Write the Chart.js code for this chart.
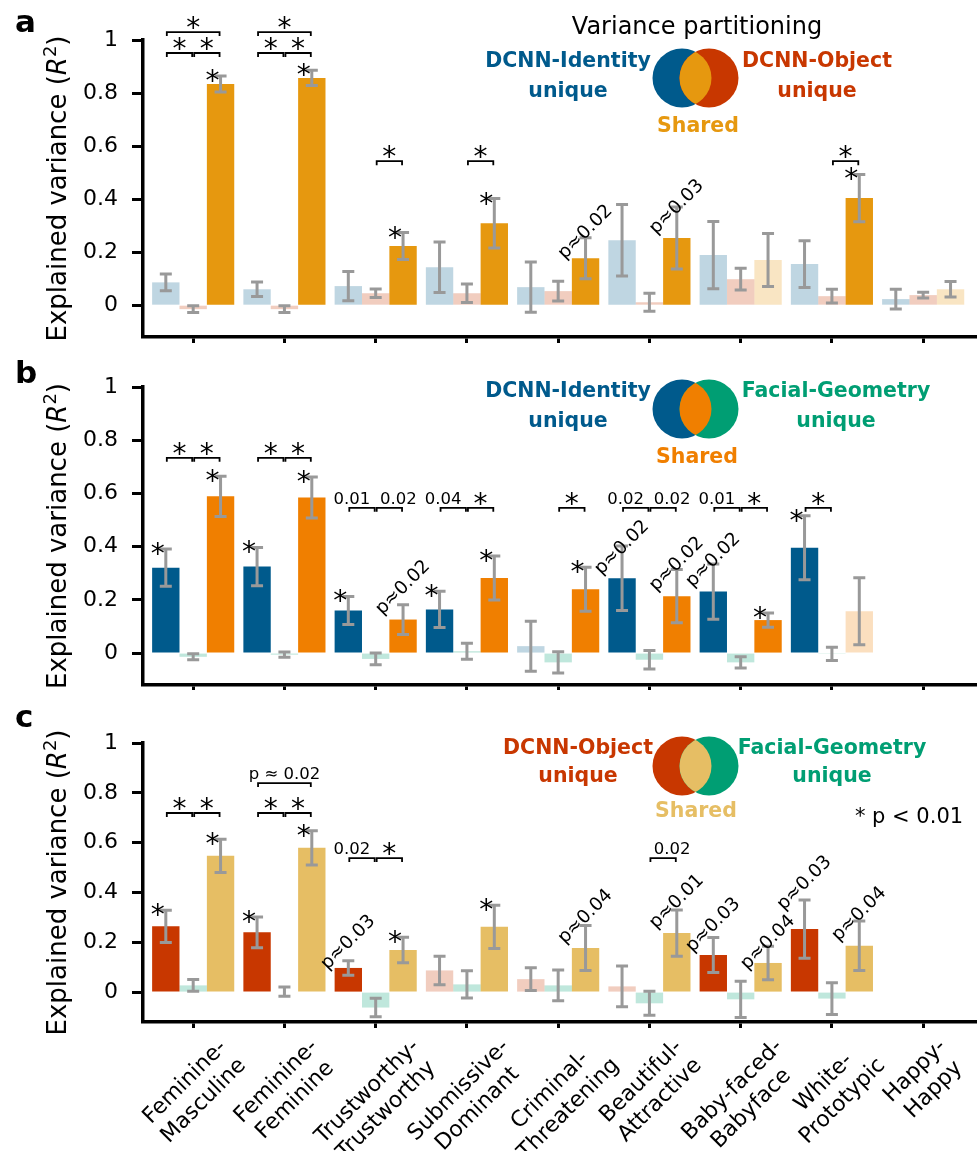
<!DOCTYPE html>
<html>
<head>
<meta charset="utf-8">
<script src="https://cdn.jsdelivr.net/npm/chart.js@4.4.0/dist/chart.umd.min.js"></script>
<style>
  html, body { margin: 0; padding: 0; background: #fff; }
  #wrap { position: relative; width: 977px; height: 1151px; }
  canvas { position: absolute; left: 0; }
</style>
</head>
<body>
<div id="wrap">
  <canvas id="chartA" width="977" height="345" style="top:0px"></canvas>
  <canvas id="chartB" width="977" height="345" style="top:345px"></canvas>
  <canvas id="chartC" width="977" height="461" style="top:690px"></canvas>
</div>
<script>
const FONT = '"DejaVu Sans", sans-serif';

const categories = [
  ["Feminine-", "Masculine"], ["Feminine-", "Feminine"], ["Trustworthy-", "Trustworthy"],
  ["Submissive-", "Dominant"], ["Criminal-", "Threatening"], ["Beautiful-", "Attractive"],
  ["Baby-faced-", "Babyface"], ["White-", "Prototypic"], ["Happy-", "Happy"]
];
const yTicks = [0, 0.2, 0.4, 0.6, 0.8, 1];

// colours
const colIdentity = "#005a8c";
const colObject = "#c83700";
const colGeometry = "#009e73";
const colSharedA = "#e6980f";
const colSharedB = "#f07f00";
const colSharedC = "#e6be64";

// panel a : DCNN-Identity / DCNN-Object
const aIdentity    = [0.086, 0.060, 0.072, 0.143, 0.068, 0.245, 0.189, 0.155, 0.023];
const aIdentityErr = [0.032, 0.027, 0.055, 0.095, 0.095, 0.135, 0.127, 0.088, 0.037];
const aIdentitySig = [0, 0, 0, 0, 0, 0, 0, 0, 0];
const aObject      = [-0.015, -0.015, 0.045, 0.045, 0.053, 0.011, 0.098, 0.034, 0.038];
const aObjectErr   = [0.013, 0.013, 0.016, 0.035, 0.037, 0.034, 0.041, 0.026, 0.011];
const aObjectSig   = [0, 0, 0, 0, 0, 0, 0, 0, 0];
const aShared      = [0.834, 0.857, 0.223, 0.309, 0.177, 0.253, 0.170, 0.404, 0.060];
const aSharedErr   = [0.030, 0.029, 0.051, 0.093, 0.077, 0.117, 0.100, 0.089, 0.029];
const aSharedSig   = [1, 1, 1, 1, 1, 1, 0, 1, 0];

// panel b : DCNN-Identity / Facial-Geometry
const bIdentity    = [0.321, 0.325, 0.160, 0.164, 0.026, 0.281, 0.231, 0.396, null];
const bIdentityErr = [0.070, 0.072, 0.053, 0.068, 0.094, 0.121, 0.104, 0.120, null];
const bIdentitySig = [1, 1, 1, 1, 0, 1, 1, 1, 0];
const bGeometry    = [-0.014, -0.006, -0.022, 0.007, -0.035, -0.025, -0.035, -0.003, null];
const bGeometryErr = [0.011, 0.010, 0.022, 0.030, 0.040, 0.035, 0.021, 0.025, null];
const bGeometrySig = [0, 0, 0, 0, 0, 0, 0, 0, 0];
const bShared      = [0.589, 0.585, 0.126, 0.282, 0.240, 0.214, 0.124, 0.157, null];
const bSharedErr   = [0.076, 0.077, 0.056, 0.083, 0.083, 0.100, 0.027, 0.126, null];
const bSharedSig   = [1, 1, 1, 1, 1, 1, 1, 0, 0];

// panel c : DCNN-Object / Facial-Geometry
const cObject      = [0.264, 0.240, 0.097, 0.087, 0.052, 0.023, 0.149, 0.253, null];
const cObjectErr   = [0.065, 0.062, 0.029, 0.057, 0.046, 0.082, 0.070, 0.117, null];
const cObjectSig   = [1, 1, 1, 0, 0, 0, 1, 1, 0];
const cGeometry    = [0.027, 0.002, -0.062, 0.031, 0.027, -0.045, -0.029, -0.026, null];
const cGeometryErr = [0.024, 0.019, 0.037, 0.055, 0.062, 0.048, 0.073, 0.064, null];
const cGeometrySig = [0, 0, 0, 0, 0, 0, 0, 0, 0];
const cShared      = [0.547, 0.579, 0.169, 0.262, 0.177, 0.237, 0.117, 0.186, null];
const cSharedErr   = [0.067, 0.069, 0.051, 0.087, 0.090, 0.093, 0.067, 0.099, null];
const cSharedSig   = [1, 1, 1, 1, 1, 1, 1, 1, 0];

// brackets: [group, from series, to series, level, label]
const aBrackets = [[0,0,1,0.951,"*"],[0,1,2,0.951,"*"],[0,0,2,1.03,"*"],
  [1,0,1,0.951,"*"],[1,1,2,0.951,"*"],[1,0,2,1.03,"*"],
  [2,1,2,0.543,"*"],[3,1,2,0.543,"*"],[7,1,2,0.543,"*"]];
const bBrackets = [[0,0,1,0.734,"*"],[0,1,2,0.734,"*"],[1,0,1,0.734,"*"],[1,1,2,0.734,"*"],
  [2,0,1,0.546,"0.01"],[2,1,2,0.546,"0.02"],[3,0,1,0.546,"0.04"],[3,1,2,0.546,"*"],
  [4,1,2,0.546,"*"],[5,0,1,0.546,"0.02"],[5,1,2,0.546,"0.02"],
  [6,0,1,0.546,"0.01"],[6,1,2,0.546,"*"],[7,0,1,0.546,"*"]];
const cBrackets = [[0,0,1,0.719,"*"],[0,1,2,0.719,"*"],[1,0,1,0.719,"*"],[1,1,2,0.719,"*"],
  [1,0,2,0.839,"p ≈ 0.02"],[2,0,1,0.538,"0.02"],[2,1,2,0.538,"*"],[5,1,2,0.538,"0.02"]];

// stars over single bars: [series, group]
const aStars = [[2,0],[2,1],[2,2],[2,3],[2,7]];
const bStars = [[0,0],[2,0],[0,1],[2,1],[0,2],[0,3],[2,3],[2,4],[2,6],[0,7]];
const cStars = [[0,0],[2,0],[0,1],[2,1],[2,2],[2,3]];

// rotated p labels: [series, group, level, text]
const aPLabels = [[2,4,0.275,"p≈0.02"],[2,5,0.370,"p≈0.03"]];
const bPLabels = [[2,2,0.246,"p≈0.02"],[0,5,0.396,"p≈0.02"],[2,5,0.334,"p≈0.02"],[0,6,0.349,"p≈0.02"]];
const cPLabels = [[0,2,0.199,"p≈0.03"],[2,4,0.303,"p≈0.04"],[2,5,0.363,"p≈0.01"],
  [0,6,0.269,"p≈0.03"],[2,6,0.199,"p≈0.04"],[0,7,0.437,"p≈0.03"],[2,7,0.313,"p≈0.04"]];

const panels = [
  { id: "chartA", padTop: 40, xAxisH: 8, letter: "a", letterY: 32, showLabels: false,
    series: [[aIdentity, aIdentityErr, aIdentitySig, colIdentity],
             [aObject, aObjectErr, aObjectSig, colObject],
             [aShared, aSharedErr, aSharedSig, colSharedA]],
    brackets: aBrackets, stars: aStars, pLabels: aPLabels,
    title: { text: "Variance partitioning", x: 697, y: 34 },
    left: { lines: ["DCNN-Identity", "unique"], x: 568, y: [67, 97], color: colIdentity },
    right: { lines: ["DCNN-Object", "unique"], x: 817, y: [67, 97], color: colObject },
    shared: { x: 698, y: 132, color: colSharedA }, vennY: 78 },
  { id: "chartB", padTop: 42, xAxisH: 5, letter: "b", letterY: 38, showLabels: false,
    series: [[bIdentity, bIdentityErr, bIdentitySig, colIdentity],
             [bGeometry, bGeometryErr, bGeometrySig, colGeometry],
             [bShared, bSharedErr, bSharedSig, colSharedB]],
    brackets: bBrackets, stars: bStars, pLabels: bPLabels,
    left: { lines: ["DCNN-Identity", "unique"], x: 568, y: [52, 82], color: colIdentity },
    right: { lines: ["Facial-Geometry", "unique"], x: 836, y: [52, 82], color: colGeometry },
    shared: { x: 697, y: 118, color: colSharedB }, vennY: 64 },
  { id: "chartC", padTop: 53, xAxisH: 129, letter: "c", letterY: 37, showLabels: true,
    series: [[cObject, cObjectErr, cObjectSig, colObject],
             [cGeometry, cGeometryErr, cGeometrySig, colGeometry],
             [cShared, cSharedErr, cSharedSig, colSharedC]],
    brackets: cBrackets, stars: cStars, pLabels: cPLabels,
    left: { lines: ["DCNN-Object", "unique"], x: 578, y: [64, 92], color: colObject },
    right: { lines: ["Facial-Geometry", "unique"], x: 832, y: [64, 92], color: colGeometry },
    shared: { x: 696, y: 127, color: colSharedC }, vennY: 76,
    note: { text: "* p < 0.01", x: 909, y: 133 } }
];
const panelById = {};
panels.forEach(p => { panelById[p.id] = p; });

function light(hex, a) {
  const n = parseInt(hex.slice(1), 16);
  return `rgba(${n >> 16}, ${(n >> 8) & 255}, ${n & 255}, ${a})`;
}

function findBar(chart, s, g) {
  const ds = chart.data.datasets[s];
  const j = ds.data.findIndex(d => d.x === g);
  return { el: chart.getDatasetMeta(s).data[j], d: ds.data[j], e: ds.errors[g] };
}

function text(ctx, s, x, y, font, color, align) {
  ctx.font = font;
  ctx.fillStyle = color;
  ctx.textAlign = align || "center";
  ctx.textBaseline = "alphabetic";
  ctx.fillText(s, x, y);
}

function drawVenn(ctx, cx, cy, c1, c2, c3) {
  const r = 29.5, dx = 13.5;
  ctx.save();
  ctx.fillStyle = c1;
  ctx.beginPath(); ctx.arc(cx - dx, cy, r, 0, Math.PI * 2); ctx.fill();
  ctx.fillStyle = c2;
  ctx.beginPath(); ctx.arc(cx + dx, cy, r, 0, Math.PI * 2); ctx.fill();
  ctx.beginPath(); ctx.arc(cx - dx, cy, r, 0, Math.PI * 2); ctx.clip();
  ctx.fillStyle = c3;
  ctx.beginPath(); ctx.arc(cx + dx, cy, r, 0, Math.PI * 2); ctx.fill();
  ctx.restore();
}

function drawYTitle(ctx, x, cy) {
  const fs = 26;
  const parts = [
    ["Explained variance (", `${fs}px ${FONT}`, 0],
    ["R", `italic ${fs}px ${FONT}`, 0],
    ["2", `${Math.round(fs * 0.7)}px ${FONT}`, -fs * 0.4],
    [")", `${fs}px ${FONT}`, 0]
  ];
  let total = 0;
  parts.forEach(pt => { ctx.font = pt[1]; pt.push(ctx.measureText(pt[0]).width); total += pt[3]; });
  ctx.save();
  ctx.translate(x, cy);
  ctx.rotate(-Math.PI / 2);
  let cur = -total / 2;
  parts.forEach(pt => { text(ctx, pt[0], cur, pt[2], pt[1], "#000", "left"); cur += pt[3]; });
  ctx.restore();
}

function drawXLabel(ctx, lines, cx, top, fs) {
  ctx.font = `${fs}px ${FONT}`;
  const W = Math.max(...lines.map(l => ctx.measureText(l).width));
  const L = fs * 1.2, A = fs * 0.93, D = fs * 0.24;
  const H = (lines.length - 1) * L;
  const k = Math.SQRT1_2;
  const ox = cx - k * (W + H + D - A) / 2;
  const oy = top + k * (W + A);
  ctx.save();
  ctx.translate(ox, oy);
  ctx.rotate(-Math.PI / 4);
  lines.forEach((l, i) => text(ctx, l, W / 2, i * L, `${fs}px ${FONT}`, "#000", "center"));
  ctx.restore();
}

const extras = {
  id: "extras",
  afterDatasetsDraw(chart) {
    const ctx = chart.ctx, ys = chart.scales.y;
    ctx.save();
    ctx.strokeStyle = "#999999";
    ctx.lineWidth = 3;
    chart.data.datasets.forEach((ds, s) => {
      chart.getDatasetMeta(s).data.forEach((bar, j) => {
        const d = ds.data[j], e = ds.errors[d.x];
        const t = ys.getPixelForValue(d.y + e), b = ys.getPixelForValue(d.y - e);
        ctx.beginPath();
        ctx.moveTo(bar.x, t); ctx.lineTo(bar.x, b);
        ctx.moveTo(bar.x - 6, t); ctx.lineTo(bar.x + 6, t);
        ctx.moveTo(bar.x - 6, b); ctx.lineTo(bar.x + 6, b);
        ctx.stroke();
      });
    });
    ctx.restore();
  },
  afterDraw(chart) {
    const p = panelById[chart.canvas.id];
    const ctx = chart.ctx, ys = chart.scales.y, xs = chart.scales.x;
    const area = chart.chartArea;
    ctx.save();

    // significance brackets
    p.brackets.forEach(([g, s1, s2, level, label]) => {
      const x1 = findBar(chart, s1, g).el.x + 1;
      const x2 = findBar(chart, s2, g).el.x - 1;
      const yy = ys.getPixelForValue(level);
      ctx.strokeStyle = "#000";
      ctx.lineWidth = 1.8;
      ctx.beginPath();
      ctx.moveTo(x1, yy + 4); ctx.lineTo(x1, yy); ctx.lineTo(x2, yy); ctx.lineTo(x2, yy + 4);
      ctx.stroke();
      const mid = (x1 + x2) / 2;
      if (label === "*") {
        text(ctx, "*", mid, yy + 5, `28px ${FONT}`, "#000");
      } else {
        let shift = 0;
        if (s1 === 0 && s2 === 1) shift = -10;
        if (s1 === 1 && s2 === 2) shift = 9;
        text(ctx, label, mid + shift, yy - 4, `16.5px ${FONT}`, "#000");
      }
    });

    // stars on single bars
    p.stars.forEach(([s, g]) => {
      const b = findBar(chart, s, g);
      const t = ys.getPixelForValue(b.d.y + b.e);
      text(ctx, "*", b.el.x - 8, t + 14, `28px ${FONT}`, "#000");
    });

    // rotated p values
    p.pLabels.forEach(([s, g, level, label]) => {
      const b = findBar(chart, s, g);
      ctx.save();
      ctx.translate(b.el.x, ys.getPixelForValue(level));
      ctx.rotate(-Math.PI / 4);
      ctx.font = `18.5px ${FONT}`;
      ctx.fillStyle = "#000";
      ctx.textAlign = "center";
      ctx.textBaseline = "middle";
      ctx.fillText(label, 0, 0);
      ctx.restore();
    });

    // venn legend
    const bold = `bold 20.5px ${FONT}`;
    if (p.title) text(ctx, p.title.text, p.title.x, p.title.y, `24px ${FONT}`, "#000");
    [p.left, p.right].forEach(t => {
      t.lines.forEach((l, i) => text(ctx, l, t.x, t.y[i], bold, t.color));
    });
    text(ctx, "Shared", p.shared.x, p.shared.y, bold, p.shared.color);
    drawVenn(ctx, 695.5, p.vennY, p.left.color, p.right.color, p.shared.color);
    if (p.note) text(ctx, p.note.text, p.note.x, p.note.y, `21px ${FONT}`, "#000");

    // panel letter and axis title
    text(ctx, p.letter, 15, p.letterY, `bold 31px ${FONT}`, "#000", "left");
    drawYTitle(ctx, 66, (area.top + area.bottom) / 2);

    // category labels
    if (p.showLabels) {
      categories.forEach((lines, i) => {
        drawXLabel(ctx, lines, xs.getPixelForValue(i), area.bottom + 11, 22);
      });
    }
    ctx.restore();
  }
};

function makeChart(p) {
  const datasets = p.series.map(([values, errors, sig, color]) => ({
    data: values.map((v, i) => (v === null ? null : { x: i, y: v })).filter(d => d),
    errors: errors,
    backgroundColor: c => (c.raw && sig[c.raw.x] ? color : light(color, 0.25)),
    borderWidth: 0,
    categoryPercentage: 0.9,
    barPercentage: 1
  }));
  return new Chart(document.getElementById(p.id), {
    type: "bar",
    data: { datasets },
    plugins: [extras],
    options: {
      responsive: false,
      animation: false,
      layout: { padding: { top: p.padTop, left: 0, right: 0, bottom: 0 } },
      plugins: { legend: { display: false }, tooltip: { enabled: false } },
      scales: {
        x: {
          type: "linear", min: -0.55, max: 8.59, offset: false,
          grid: { display: true, offset: false, drawOnChartArea: false, drawTicks: true,
                  tickLength: 6, tickWidth: 3, tickColor: "#000" },
          border: { display: true, color: "#000", width: 3.5 },
          ticks: { autoSkip: false, maxRotation: 0, callback: () => "" },
          afterBuildTicks: s => { s.ticks = categories.map((_, i) => ({ value: i })); },
          afterFit: s => { s.height = p.xAxisH; s.paddingLeft = 0; s.paddingRight = 0; }
        },
        y: {
          min: -0.12, max: 1.0,
          grid: { display: true, drawOnChartArea: false, drawTicks: true,
                  tickLength: 11, tickWidth: 3, tickColor: "#000" },
          border: { display: true, color: "#000", width: 3.5 },
          ticks: { color: "#000", padding: 14, font: { family: "DejaVu Sans", size: 22 },
                   callback: v => String(+v.toFixed(1)) },
          afterBuildTicks: s => { s.ticks = yTicks.map(v => ({ value: v })); },
          afterFit: s => { s.width = 143; s.paddingTop = 0; s.paddingBottom = 0; }
        }
      }
    }
  });
}

panels.forEach(makeChart);
</script>
</body>
</html>
